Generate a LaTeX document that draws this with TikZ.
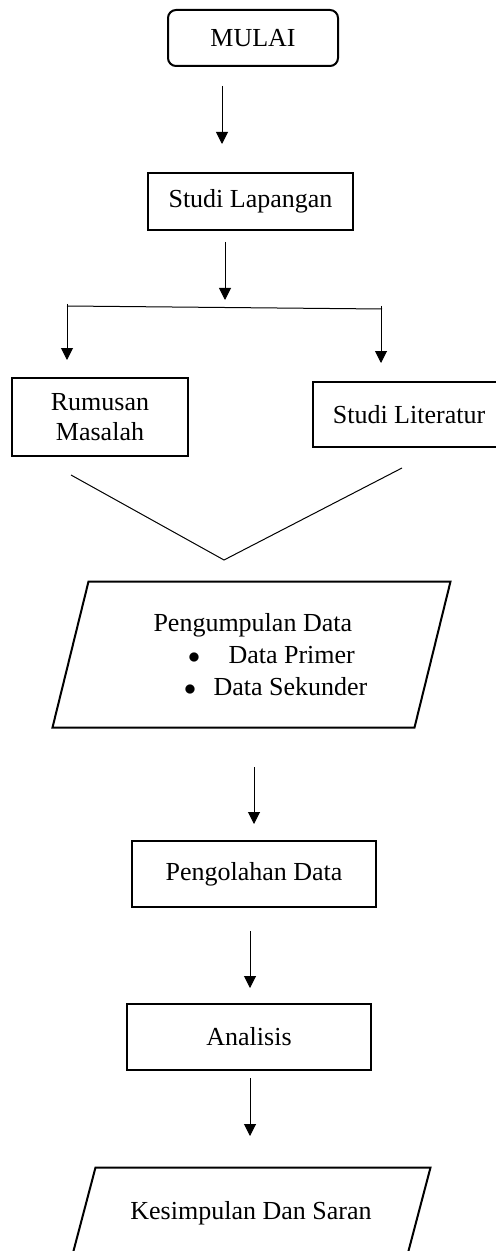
\documentclass[tikz,border=0pt]{standalone}
\usepackage{fontspec}
\setmainfont{Liberation Serif}
\usetikzlibrary{arrows.meta}
\usetikzlibrary{positioning}

\begin{document}
\begin{tikzpicture}[x=0.5pt,y=-0.5pt,->,>={Triangle[width=6pt,length=6pt]},
  line width=0.5pt,font=\fontsize{13}{15}\selectfont,
  start node/.style={rectangle,rounded corners=4pt,draw,line width=1pt,
    minimum width=85pt,minimum height=28pt},
  main node/.style={rectangle,draw,line width=1pt,align=center},
  data node/.style={rectangle,inner sep=0pt},
  data line/.style={-,line width=1pt,line join=miter}]

  \useasboundingbox (0,0) rectangle (495,1251);

  \node[start node] (1) at (253,38) {MULAI};
  \node[main node,minimum width=102.5pt,minimum height=28.5pt] (2) at (250.5,201.5) {Studi Lapangan};
  \node[main node,minimum width=88pt,minimum height=39pt] (3) at (100,417) {Rumusan\\Masalah};
  \node[main node,minimum width=96pt,minimum height=32.5pt] (4) at (409,414.5) {Studi Literatur};
  \node[data node,minimum width=198.5pt,minimum height=72.5pt] (5) at (251.5,654.5) {};
  \node[align=left,inner sep=0pt,anchor=west,font=\fontsize{13}{16}\selectfont] (5a) at (153,655)
    {Pengumpulan Data\\
     \hspace*{17.25pt}$\bullet$\hspace{14.25pt}Data Primer\\
     \hspace*{15.25pt}$\bullet$\hspace{8.75pt}Data Sekunder};
  \node[main node,minimum width=122pt,minimum height=33pt] (6) at (254,874) {Pengolahan Data};
  \node[main node,minimum width=122pt,minimum height=33pt] (7) at (249,1037) {Analisis};
  \node[data node,minimum width=179pt,minimum height=45pt] (8) at (251,1213) {Kesimpulan Dan Saran};

  % jajar genjang
  \draw[data line] ([xshift=18pt]5.north west) -- (5.north east)
    -- ([xshift=-18pt]5.south east) -- (5.south west) -- cycle;
  \draw[data line] ([xshift=12pt]8.north west) -- (8.north east)
    -- ([xshift=-12pt]8.south east) -- (8.south west) -- cycle;

  % ujung panah
  \coordinate (1b) at (222,86);   \coordinate (2a) at (222,144);
  \coordinate (2b) at (225,242);  \coordinate (c0) at (225,300);
  \coordinate (cl) at (67,306);   \coordinate (cr) at (382,309);
  \coordinate (cl0) at (67,304);  \coordinate (3a) at (67,360);
  \coordinate (cr0) at (381,306); \coordinate (4a) at (381,363);
  \coordinate (3b) at (71,475);   \coordinate (5a0) at (224,560);
  \coordinate (4b) at (402,468);
  \coordinate (5b) at (254,767);  \coordinate (6a) at (254,824);
  \coordinate (6b) at (250,931);  \coordinate (7a) at (250,988);
  \coordinate (7b) at (250,1078); \coordinate (8a) at (250,1136);

  \path
    (1b) edge (2a)
    (2b) edge (c0)
    (cl0) edge (3a)
    (cr0) edge (4a)
    (5b) edge (6a)
    (6b) edge (7a)
    (7b) edge (8a);
  \draw[-] (cl) -- (cr);
  \draw[-] (3b) -- (5a0) -- (4b);
\end{tikzpicture}
\end{document}
